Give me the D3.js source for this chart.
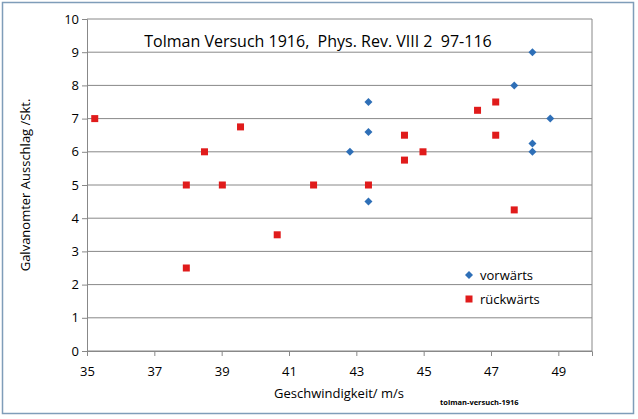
<!DOCTYPE html>
<html>
<meta charset="utf-8">
<body style="margin:0;background:#fff">
<script src="https://d3js.org/d3.v7.min.js"></script>
<script>
// vorwärts (blue diamonds)
var vorX = [48.23, 47.69, 43.36, 48.76, 43.36, 48.23, 42.81, 48.23, 43.36];
var vorY = [9, 8, 7.5, 7, 6.6, 6.25, 6, 6, 4.5];
// rückwärts (red squares)
var rueX = [35.23, 39.56, 38.49, 37.95, 39.02, 40.65, 37.95, 41.73, 43.36, 44.43, 44.43, 44.98, 46.6, 47.14, 47.14, 47.69];
var rueY = [7, 6.75, 6, 5, 5, 3.5, 2.5, 5, 5, 6.5, 5.75, 6, 7.25, 7.5, 6.5, 4.25];
var xTicks = [35, 37, 39, 41, 43, 45, 47, 49];
var yTicks = [0, 1, 2, 3, 4, 5, 6, 7, 8, 9, 10];

var font = "'Open Sans', sans-serif";
var svg = d3.select("body").append("svg").attr("width", 638).attr("height", 419);
svg.append("rect").attr("x", 2.5).attr("y", 2.5).attr("width", 631).attr("height", 411)
   .attr("fill", "#fff").attr("stroke", "#7f9db9").attr("stroke-width", 1.5);

var x = d3.scaleLinear().domain([35, 50]).range([87, 592]);
var y = d3.scaleLinear().domain([0, 10]).range([351, 19]);

// grid
svg.selectAll(".grid").data(yTicks).enter().append("line")
   .attr("x1", x(35)).attr("x2", x(50))
   .attr("y1", d => y(d)).attr("y2", d => y(d))
   .attr("stroke", "#888").attr("stroke-width", 1);
svg.append("line").attr("x1", x(50)).attr("x2", x(50)).attr("y1", y(0)).attr("y2", y(10)).attr("stroke", "#888");

var xa = svg.append("g").attr("transform", "translate(0," + y(0) + ")")
   .call(d3.axisBottom(x).tickValues(xTicks).tickSize(5).tickFormat(d3.format("d")));
var ya = svg.append("g").attr("transform", "translate(" + x(35) + ",0)")
   .call(d3.axisLeft(y).tickValues(yTicks).tickSize(5));
[xa, ya].forEach(function(a) {
  a.selectAll("path,line").attr("stroke", "#888");
  a.selectAll("text").attr("font-family", font).attr("font-size", 13).attr("fill", "#000");
});
xa.selectAll("text").attr("dy", "1.3em");

svg.append("text").attr("x", 318).attr("y", 47).attr("text-anchor", "middle").style("white-space", "pre")
   .attr("font-family", font).attr("font-size", 16).text("Tolman Versuch 1916,  Phys. Rev. VIII 2  97-116");
svg.append("text").attr("x", 339).attr("y", 398).attr("text-anchor", "middle")
   .attr("font-family", font).attr("font-size", 13).text("Geschwindigkeit/ m/s");
svg.append("text").attr("transform", "translate(30,185) rotate(-90)").attr("text-anchor", "middle")
   .attr("font-family", font).attr("font-size", 13).text("Galvanomter Ausschlag /Skt.");
svg.append("text").attr("x", 440).attr("y", 405)
   .attr("font-family", font).attr("font-size", 7.5).attr("font-weight", "bold").text("tolman-versuch-1916");

var diamond = "M0,-4L4,0L0,4L-4,0Z";
svg.selectAll(".v").data(vorX).enter().append("path").attr("d", diamond)
   .attr("transform", (d, i) => "translate(" + x(d) + "," + y(vorY[i]) + ")").attr("fill", "#2e6fb7");
svg.selectAll(".r").data(rueX).enter().append("rect")
   .attr("x", d => x(d) - 3.5).attr("y", (d, i) => y(rueY[i]) - 3.5)
   .attr("width", 7).attr("height", 7).attr("fill", "#e01b1b");

// legend
svg.append("path").attr("d", diamond).attr("transform", "translate(469,275)").attr("fill", "#2e6fb7");
svg.append("rect").attr("x", 465.5).attr("y", 295.5).attr("width", 7).attr("height", 7).attr("fill", "#e01b1b");
svg.append("text").attr("x", 480).attr("y", 280).attr("font-family", font).attr("font-size", 13).text("vorwärts");
svg.append("text").attr("x", 480).attr("y", 304).attr("font-family", font).attr("font-size", 13).text("rückwärts");
</script>
</body>
</html>
